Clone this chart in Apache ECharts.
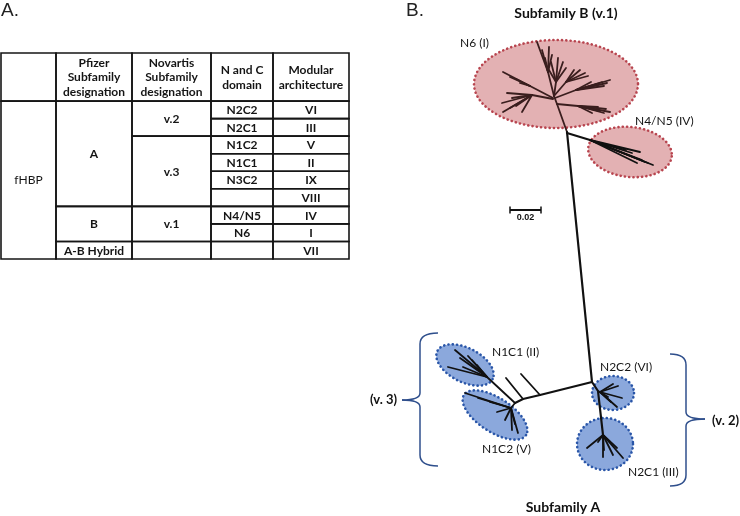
<!DOCTYPE html>
<html><head><meta charset="utf-8">
<script src="https://cdn.jsdelivr.net/npm/echarts@6/dist/echarts.min.js"></script>
<style>html,body{margin:0;padding:0;background:#fff}#c{width:740px;height:516px}</style>
</head><body><div id="c"></div>
<script>
// ================= DATA : table (panel A) =================
const tableHeaders = ['', 'Pfizer\nSubfamily\ndesignation', 'Novartis\nSubfamily\ndesignation', 'N and C\ndomain', 'Modular\narchitecture'];
const proteinName = 'fHBP';
const pfizerSubfamilies = ['A', 'B', 'A-B Hybrid'];
const pfizerRowSpans = [6, 2, 1];
const novartisSubfamilies = ['v.2', 'v.3', 'v.1', ''];
const novartisRowSpans = [2, 4, 2, 1];
const ncDomains = ['N2C2', 'N2C1', 'N1C2', 'N1C1', 'N3C2', '', 'N4/N5', 'N6', ''];
const modularArchitectures = ['VI', 'III', 'V', 'II', 'IX', 'VIII', 'IV', 'I', 'VII'];

// ================= DATA : tree (panel B), node positions in tree units =================
const trunk = [[567, 132], [592, 382]];
// Subfamily B
const n6Stems = [[[567, 132], [557, 104], [554, 96]], [[557, 104], [578, 106]], [[554, 96], [548, 72]], [[554, 96], [556, 82]], [[554, 96], [566, 82]], [[555, 98], [576, 90]], [[553, 98], [530, 86]], [[553, 99], [532, 95]]];
const n6Hubs = [[578, 106], [548, 72], [556, 82], [566, 82], [576, 90], [530, 86], [532, 95]];
const n6Tips = [
  [[610, 112], [604, 113], [598, 107], [592, 113], [606, 109], [600, 111]],
  [[537, 42], [542, 50], [549, 47], [545, 58], [552, 55]],
  [[558, 58], [563, 62], [551, 62], [546, 65], [566, 68]],
  [[580, 70], [585, 73], [574, 70], [588, 76]],
  [[610, 80], [602, 82], [597, 84], [604, 86], [591, 82], [607, 83]],
  [[503, 72], [510, 77], [516, 79], [520, 83]],
  [[507, 93], [502, 103], [503, 112], [522, 112], [512, 98], [516, 106], [510, 108]]
];
const n4n5Stem = [[567, 133], [590, 140]];
const n4n5Tips = [[640, 152], [642, 160], [653, 165], [645, 162], [632, 153], [637, 163], [648, 163], [626, 150]];
// Subfamily A
const v3Backbone = [[592, 382], [540, 395], [523, 399], [515, 403]];
const v3Twigs = [[[540, 395], [521, 374]], [[523, 399], [506, 378]]];
const n1c1Stem = [[515, 403], [487, 377]];
const n1c1Tips = [[455, 350], [448, 367], [468, 356], [477, 365], [463, 367], [472, 360], [482, 372], [460, 358]];
const n1c2Stem = [[515, 403], [511, 408]];
const n1c2Tips = [[465, 393], [490, 402], [518, 433], [512, 430], [505, 420], [497, 412], [478, 398], [515, 424]];
const v2Backbone = [[592, 382], [598, 391], [603, 435]];
const n2c2Stem = [[598, 391], [600, 392]];
const n2c2Tips = [[613, 384], [618, 386], [622, 398], [617, 407], [611, 402], [608, 397]];
const n2c1Hub = [603, 435];
const n2c1Tips = [[587, 448], [603, 457], [623, 458], [617, 448], [610, 442], [598, 442], [604, 450], [613, 455]];

// clusters: name, centre x, centre y, radius x, radius y, tilt (deg), subfamily
const clusterNames = ['N6 (I)', 'N4/N5 (IV)', 'N1C1 (II)', 'N1C2 (V)', 'N2C2 (VI)', 'N2C1 (III)'];
const clusterEllipses = [[556, 84, 82, 44, 0], [630, 152, 42, 25, 6], [465, 365, 31, 17, 27], [495, 415, 37, 17, 33], [613, 393, 21, 17, 0], [605, 444, 28, 26, 0]];
const clusterSubfamily = ['B', 'B', 'A', 'A', 'A', 'A'];
const scaleBarValue = '0.02';
const scaleBar = [510, 210, 541];
const groupLabels = ['(v. 3)', '(v. 2)'];
const groupBraces = [[438, 420, 402, 333, 400, 466], [670, 686, 705, 354, 419, 486]];

// ================= LAYOUT / STYLE =================
const colEdges = [0, 55, 131, 210, 272, 348];
const FONT = 'Lato, "Open Sans", sans-serif';
const labelPos = [[460, 43, 'left'], [635, 121, 'left'], [492, 352, 'left'], [482, 449, 'left'], [600, 367, 'left'], [628, 472, 'left']];
const groupLabelPos = [[397, 400, 'right'], [712, 421, 'left']];

// build table cells
const cells = [];
tableHeaders.forEach((t, i) => cells.push({ c: i, r0: -2.74, r1: 0, text: t, bold: true }));
cells.push({ c: 0, r0: 0, r1: 9, text: proteinName, bold: false });
let r = 0;
pfizerSubfamilies.forEach((t, i) => { cells.push({ c: 1, r0: r, r1: r + pfizerRowSpans[i], text: t, bold: true }); r += pfizerRowSpans[i]; });
r = 0;
novartisSubfamilies.forEach((t, i) => { cells.push({ c: 2, r0: r, r1: r + novartisRowSpans[i], text: t, bold: true }); r += novartisRowSpans[i]; });
ncDomains.forEach((t, i) => cells.push({ c: 3, r0: i, r1: i + 1, text: t, bold: true }));
modularArchitectures.forEach((t, i) => cells.push({ c: 4, r0: i, r1: i + 1, text: t, bold: true }));

// build tree branches
const branchesB = [...n6Stems];
n6Hubs.forEach((h, i) => n6Tips[i].forEach(t => branchesB.push([h, t])));
const branchesA = [trunk, n4n5Stem, v3Backbone, ...v3Twigs, n1c1Stem, n1c2Stem, v2Backbone, n2c2Stem];
n4n5Tips.forEach(t => branchesA.push([n4n5Stem[1], t]));
n1c1Tips.forEach(t => branchesA.push([n1c1Stem[1], t]));
n1c2Tips.forEach(t => branchesA.push([n1c2Stem[1], t]));
n2c2Tips.forEach(t => branchesA.push([n2c2Stem[1], t]));
n2c1Tips.forEach(t => branchesA.push([n2c1Hub, t]));
const thick = [trunk, n4n5Stem, v3Backbone, v2Backbone];

function branchSeries(list, color, width) {
  return {
    type: 'custom', xAxisIndex: 1, yAxisIndex: 1, clip: false,
    data: list.map(b => b[0]),
    renderItem: (p, api) => ({
      type: 'polyline',
      shape: { points: list[p.dataIndex].map(pt => api.coord(pt)) },
      style: { stroke: color, lineWidth: thick.includes(list[p.dataIndex]) ? 2.2 : width, fill: 'none', lineJoin: 'round', lineCap: 'round' }
    })
  };
}

const chart = echarts.init(document.getElementById('c'), null, { renderer: 'canvas' });
chart.setOption({
  animation: false,
  backgroundColor: '#fff',
  grid: [
    { left: 1, top: 53, width: 348, height: 206 },
    { left: 0, top: 0, width: 740, height: 516 }
  ],
  xAxis: [
    { type: 'value', gridIndex: 0, min: 0, max: 348, show: false },
    { type: 'value', gridIndex: 1, min: 0, max: 740, show: false }
  ],
  yAxis: [
    { type: 'value', gridIndex: 0, min: -2.74, max: 9, inverse: true, show: false },
    { type: 'value', gridIndex: 1, min: 0, max: 516, inverse: true, show: false }
  ],
  series: [
    // table
    {
      type: 'custom', xAxisIndex: 0, yAxisIndex: 0, clip: false,
      data: cells.map(c => [colEdges[c.c], c.r0]),
      renderItem: (p, api) => {
        const c = cells[p.dataIndex];
        const a = api.coord([colEdges[c.c], c.r0]);
        const b = api.coord([colEdges[c.c + 1], c.r1]);
        return {
          type: 'group', children: [
            { type: 'rect', shape: { x: a[0], y: a[1], width: b[0] - a[0], height: b[1] - a[1] }, style: { fill: 'none', stroke: '#161616', lineWidth: 1.6 } },
            { type: 'text', x: (a[0] + b[0]) / 2, y: (a[1] + b[1]) / 2 + 0.5, style: { text: c.text, fill: '#151515', align: 'center', verticalAlign: 'middle', font: (c.bold ? 'bold ' : '') + '12px ' + FONT, lineHeight: 14.5 } }
          ]
        };
      }
    },
    // cluster ellipses
    {
      type: 'custom', xAxisIndex: 1, yAxisIndex: 1, clip: false,
      data: clusterEllipses.map(e => [e[0], e[1]]),
      renderItem: (p, api) => {
        const [cx, cy, rx, ry, rot] = clusterEllipses[p.dataIndex];
        const th = rot * Math.PI / 180, pts = [];
        for (let k = 0; k < 96; k++) {
          const t = k / 96 * Math.PI * 2;
          pts.push(api.coord([cx + rx * Math.cos(t) * Math.cos(th) - ry * Math.sin(t) * Math.sin(th), cy + rx * Math.cos(t) * Math.sin(th) + ry * Math.sin(t) * Math.cos(th)]));
        }
        const isB = clusterSubfamily[p.dataIndex] === 'B';
        return { type: 'polygon', shape: { points: pts }, style: { fill: isB ? '#e3b1b3' : '#8ba8dc', stroke: isB ? '#b8454f' : '#2a56a8', lineWidth: 2.6, lineDash: [0.1, 4.2], lineCap: 'round' } };
      }
    },
    branchSeries(branchesB, '#3a1e1e', 1.8),
    branchSeries(branchesA, '#111', 1.8),
    // braces
    {
      type: 'custom', xAxisIndex: 1, yAxisIndex: 1, clip: false,
      data: groupBraces.map(b => [b[0], b[3]]),
      renderItem: (p, api) => {
        const [xo, xs, xt, yt, ym, yb] = groupBraces[p.dataIndex];
        const P = (x, y) => api.coord([x, y]);
        const o1 = P(xo, yt), s1 = P(xs, yt + 11), s2 = P(xs, ym - 7), tp = P(xt, ym), s3 = P(xs, ym + 7), s4 = P(xs, yb - 11), o2 = P(xo, yb);
        const c1 = P(xs, yt), cm = P(xs, ym), c2 = P(xs, yb);
        const st = { stroke: '#2f4f8c', lineWidth: 1.5, fill: 'none' };
        return {
          type: 'group', children: [
            { type: 'bezierCurve', shape: { x1: o1[0], y1: o1[1], cpx1: c1[0], cpy1: c1[1], x2: s1[0], y2: s1[1] }, style: st },
            { type: 'line', shape: { x1: s1[0], y1: s1[1], x2: s2[0], y2: s2[1] }, style: st },
            { type: 'bezierCurve', shape: { x1: s2[0], y1: s2[1], cpx1: cm[0], cpy1: cm[1], x2: tp[0], y2: tp[1] }, style: st },
            { type: 'bezierCurve', shape: { x1: tp[0], y1: tp[1], cpx1: cm[0], cpy1: cm[1], x2: s3[0], y2: s3[1] }, style: st },
            { type: 'line', shape: { x1: s3[0], y1: s3[1], x2: s4[0], y2: s4[1] }, style: st },
            { type: 'bezierCurve', shape: { x1: s4[0], y1: s4[1], cpx1: c2[0], cpy1: c2[1], x2: o2[0], y2: o2[1] }, style: st }
          ]
        };
      }
    },
    // scale bar
    {
      type: 'custom', xAxisIndex: 1, yAxisIndex: 1, clip: false,
      data: [[scaleBar[0], scaleBar[1]]],
      renderItem: (p, api) => {
        const a = api.coord([scaleBar[0], scaleBar[1]]), b = api.coord([scaleBar[2], scaleBar[1]]);
        const st = { stroke: '#111', lineWidth: 2 };
        return {
          type: 'group', children: [
            { type: 'line', shape: { x1: a[0], y1: a[1], x2: b[0], y2: b[1] }, style: st },
            { type: 'line', shape: { x1: a[0], y1: a[1] - 3.5, x2: a[0], y2: a[1] + 3.5 }, style: { stroke: '#111', lineWidth: 1.5 } },
            { type: 'line', shape: { x1: b[0], y1: b[1] - 3.5, x2: b[0], y2: b[1] + 3.5 }, style: { stroke: '#111', lineWidth: 1.5 } },
            { type: 'text', x: (a[0] + b[0]) / 2, y: a[1] + 8, style: { text: scaleBarValue, fill: '#111', align: 'center', verticalAlign: 'middle', font: 'bold 9px "Liberation Sans", Arial, sans-serif' } }
          ]
        };
      }
    },
    // cluster labels
    {
      type: 'custom', xAxisIndex: 1, yAxisIndex: 1, clip: false,
      data: labelPos.map(l => [l[0], l[1]]),
      renderItem: (p, api) => {
        const l = labelPos[p.dataIndex], c = api.coord([l[0], l[1]]);
        return { type: 'text', x: c[0], y: c[1], style: { text: clusterNames[p.dataIndex], fill: '#151515', align: l[2], verticalAlign: 'middle', font: '12px ' + FONT } };
      }
    },
    // group labels
    {
      type: 'custom', xAxisIndex: 1, yAxisIndex: 1, clip: false,
      data: groupLabelPos.map(l => [l[0], l[1]]),
      renderItem: (p, api) => {
        const l = groupLabelPos[p.dataIndex], c = api.coord([l[0], l[1]]);
        return { type: 'text', x: c[0], y: c[1], style: { text: groupLabels[p.dataIndex], fill: '#111', align: l[2], verticalAlign: 'middle', font: 'bold 13px ' + FONT } };
      }
    }
  ],
  graphic: [
    { type: 'text', left: 1, top: 1, style: { text: 'A.', fill: '#222', font: '19px "Liberation Sans", Arial, sans-serif' } },
    { type: 'text', left: 406, top: 1, style: { text: 'B.', fill: '#222', font: '19px "Liberation Sans", Arial, sans-serif' } },
    { type: 'text', x: 566, y: 13, style: { text: 'Subfamily B (v.1)', fill: '#111', align: 'center', verticalAlign: 'middle', font: 'bold 14px ' + FONT } },
    { type: 'text', x: 563, y: 507, style: { text: 'Subfamily A', fill: '#111', align: 'center', verticalAlign: 'middle', font: 'bold 14px ' + FONT } }
  ]
});
</script></body></html>
